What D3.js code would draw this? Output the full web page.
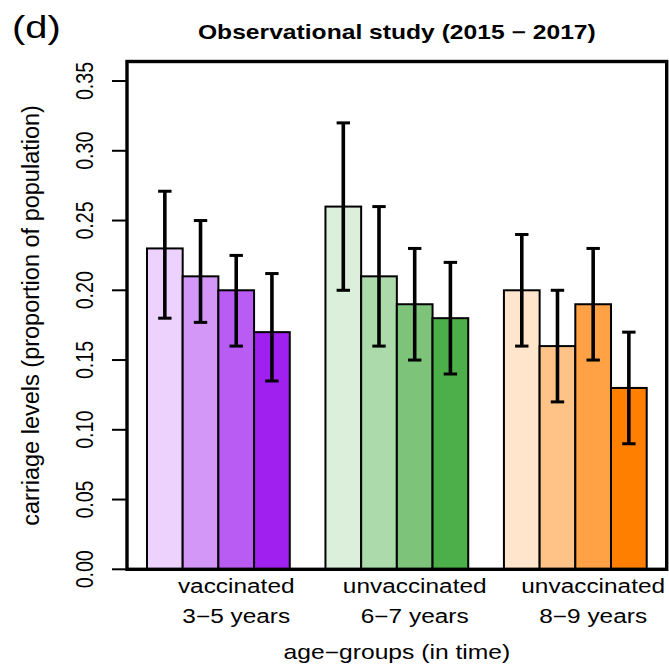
<!DOCTYPE html>
<html>
<head>
<meta charset="utf-8">
<script src="https://cdn.jsdelivr.net/npm/d3@7"></script>
<style>
  body { margin: 0; background: #fff; }
  text { font-family: "Liberation Sans", Arial, Helvetica, sans-serif; fill: #000; }
</style>
</head>
<body>
<div id="chart"></div>
<script>
// data
var groupLine1 = ["vaccinated", "unvaccinated", "unvaccinated"];
var groupLine2 = ["3\u22125 years", "6\u22127 years", "8\u22129 years"];

var vaccinated35   = [0.23, 0.21, 0.20, 0.17];
var vaccinated35Lo = [0.18, 0.177, 0.16, 0.135];
var vaccinated35Hi = [0.271, 0.25, 0.225, 0.212];

var unvacc67   = [0.26, 0.21, 0.19, 0.18];
var unvacc67Lo = [0.20, 0.16, 0.15, 0.14];
var unvacc67Hi = [0.32, 0.26, 0.23, 0.22];

var unvacc89   = [0.20, 0.16, 0.19, 0.13];
var unvacc89Lo = [0.16, 0.12, 0.15, 0.09];
var unvacc89Hi = [0.24, 0.20, 0.23, 0.17];

var yTicks = [0, 0.05, 0.10, 0.15, 0.20, 0.25, 0.30, 0.35];
var yTickLabels = ["0.00", "0.05", "0.10", "0.15", "0.20", "0.25", "0.30", "0.35"];

// styling
var baseColors = ["#A020F0", "#4DAF4A", "#FF7F00"];
var alphas = [0.2, 0.467, 0.733, 1];
var sx = 1.245;   // the picture is stretched sideways

var groups = [
    {vals: vaccinated35, lo: vaccinated35Lo, hi: vaccinated35Hi},
    {vals: unvacc67, lo: unvacc67Lo, hi: unvacc67Hi},
    {vals: unvacc89, lo: unvacc89Lo, hi: unvacc89Hi}
];

var bars = [];
groups.forEach(function(g, gi) {
    g.vals.forEach(function(v, j) {
        bars.push({pos: 1 + gi * 5 + j, v: v, lo: g.lo[j], hi: g.hi[j],
            fill: d3.interpolateRgb("#ffffff", baseColors[gi])(alphas[j])});
    });
});

var W = 669, H = 667;
var plotL = 127, plotR = 666.7, plotT = 61.5, plotB = 569.3;

var x = d3.scaleLinear().domain([0.44, 15.56]).range([plotL, plotR]);
var y = d3.scaleLinear().domain([0, 0.364]).range([plotB, plotT]);

var svg = d3.select("#chart").append("svg")
    .attr("width", W)
    .attr("height", H);

svg.selectAll("rect.bar")
    .data(bars)
    .enter()
    .append("rect")
    .attr("class", "bar")
    .attr("x", function(d) { return x(d.pos); })
    .attr("width", function(d) { return x(d.pos + 1) - x(d.pos); })
    .attr("y", function(d) { return y(d.v); })
    .attr("height", function(d) { return y(0) - y(d.v); })
    .attr("fill", function(d) { return d.fill; })
    .attr("stroke", "#000")
    .attr("stroke-width", 2);

// error bars
var eb = svg.append("g").attr("stroke", "#000").attr("stroke-linecap", "butt");
eb.selectAll("line.stem")
    .data(bars)
    .enter()
    .append("line")
    .attr("x1", function(d) { return x(d.pos + 0.5); })
    .attr("x2", function(d) { return x(d.pos + 0.5); })
    .attr("y1", function(d) { return y(d.lo); })
    .attr("y2", function(d) { return y(d.hi); })
    .attr("stroke-width", 3.6);
["lo", "hi"].forEach(function(k) {
    eb.selectAll("line.cap" + k)
        .data(bars)
        .enter()
        .append("line")
        .attr("class", "cap" + k)
        .attr("x1", function(d) { return x(d.pos + 0.5) - 6.7; })
        .attr("x2", function(d) { return x(d.pos + 0.5) + 6.7; })
        .attr("y1", function(d) { return y(d[k]); })
        .attr("y2", function(d) { return y(d[k]); })
        .attr("stroke-width", 3);
});

// box
svg.append("rect")
    .attr("x", plotL).attr("y", plotT)
    .attr("width", plotR - plotL).attr("height", plotB - plotT)
    .attr("fill", "none")
    .attr("stroke", "#000")
    .attr("stroke-width", 3.4);

// y axis ticks
svg.selectAll("line.ytick")
    .data(yTicks)
    .enter()
    .append("line")
    .attr("class", "ytick")
    .attr("x1", plotL - 15).attr("x2", plotL)
    .attr("y1", function(d) { return y(d); })
    .attr("y2", function(d) { return y(d); })
    .attr("stroke", "#000")
    .attr("stroke-width", 2);

svg.selectAll("text.ylab")
    .data(yTicks)
    .enter()
    .append("text")
    .attr("class", "ylab")
    .attr("transform", function(d) {
        return "translate(93," + y(d) + ") scale(" + sx + ",1) rotate(-90)";
    })
    .attr("text-anchor", "middle")
    .style("font-size", "19.6px")
    .text(function(d, i) { return yTickLabels[i]; });

// group labels
[groupLine1, groupLine2].forEach(function(lines, li) {
    svg.selectAll("text.g" + li)
        .data(lines)
        .enter()
        .append("text")
        .attr("class", "g" + li)
        .attr("transform", function(d, i) {
            return "translate(" + x(1 + i * 5 + 2.5) + "," + (593 + li * 30) + ") scale(" + sx + ",1)";
        })
        .attr("text-anchor", "middle")
        .style("font-size", "19.6px")
        .text(function(d) { return d; });
});

// axis titles
svg.append("text")
    .attr("transform", "translate(" + ((plotL + plotR) / 2) + ",659) scale(" + sx + ",1)")
    .attr("text-anchor", "middle")
    .style("font-size", "19.8px")
    .text("age\u2212groups (in time)");

svg.append("text")
    .attr("transform", "translate(39," + ((plotT + plotB) / 2) + ") rotate(-90)")
    .attr("text-anchor", "middle")
    .style("font-size", "23.5px")
    .text("carriage levels (proportion of population)");

svg.append("text")
    .attr("transform", "translate(" + ((plotL + plotR) / 2) + ",39) scale(" + sx + ",1)")
    .attr("text-anchor", "middle")
    .style("font-size", "19.8px")
    .style("font-weight", "bold")
    .text("Observational study (2015 \u2212 2017)");

svg.append("text")
    .attr("transform", "translate(12,38) scale(" + sx + ",1)")
    .style("font-size", "32px")
    .text("(d)");
</script>
</body>
</html>
